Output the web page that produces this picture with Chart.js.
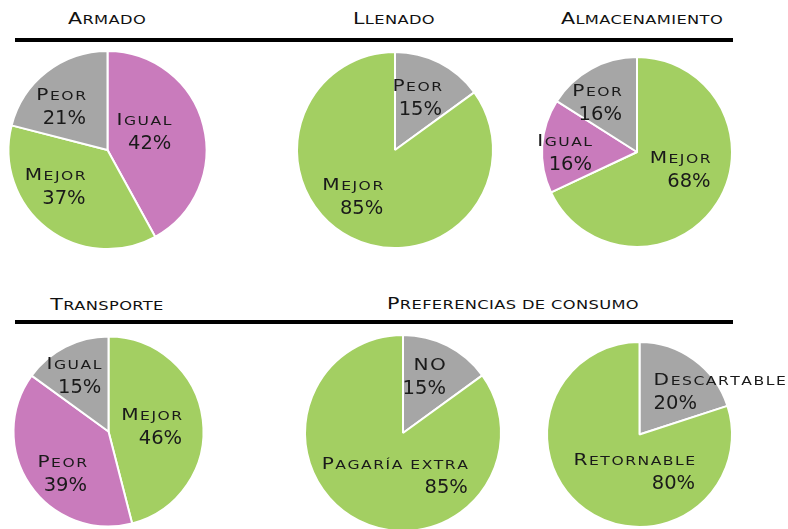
<!DOCTYPE html>
<html>
<head>
<meta charset="utf-8">
<script src="https://cdn.jsdelivr.net/npm/chart.js@4.4.1/dist/chart.umd.min.js"></script>
<style>
  html, body { margin: 0; padding: 0; background: #fff; }
  body { width: 788px; height: 529px; overflow: hidden; position: relative; font-family: "DejaVu Sans", sans-serif; }
  canvas { position: absolute; left: 0; top: 0; }
  .rule { position: absolute; left: 15px; width: 718px; height: 4px; background: #000; }
  .title { position: absolute; line-height: 20px; font-size: 16.5px; color: #111; white-space: nowrap;
           transform: translateX(-50%) scaleX(1.25); letter-spacing: 0.3px; }
  .title .sc { font-size: 13px; text-transform: uppercase; }
</style>
</head>
<body>
<div class="rule" style="top:38px"></div>
<div class="rule" style="top:320px"></div>

<script>
// values (%)
const armadoLabels = ['Igual', 'Mejor', 'Peor'];
const armadoValues = [42, 37, 21];
const llenadoLabels = ['Peor', 'Mejor'];
const llenadoValues = [15, 85];
const almacenLabels = ['Mejor', 'Igual', 'Peor'];
const almacenValues = [68, 16, 16];
const transporteLabels = ['Mejor', 'Peor', 'Igual'];
const transporteValues = [46, 39, 15];
const pagariaLabels = ['NO', 'Pagaría extra'];
const pagariaValues = [15, 85];
const envaseLabels = ['Descartable', 'Retornable'];
const envaseValues = [20, 80];

const GREEN = '#a3cf62', PINK = '#c97bbc', GRAY = '#a6a6a6';
const INK = '#1a1a1a';
const W = 788, H = 560;

// titles: [text, center x, baseline y]
const titles = [
  ['Armado', 107, 25],
  ['Llenado', 394, 25],
  ['Almacenamiento', 642, 25],
  ['Transporte', 107, 311],
  ['Preferencias de consumo', 513, 310]
];

titles.forEach(([text, x, base]) => {
  const d = document.createElement('div');
  d.className = 'title';
  d.style.left = x + 'px';
  d.style.top = (base - 15.7) + 'px';
  // small caps: real capitals big, the rest as smaller capitals
  let html = '', run = '';
  for (const ch of text) {
    if (ch !== ch.toLowerCase()) {
      if (run) { html += '<span class="sc">' + run + '</span>'; run = ''; }
      html += ch;
    } else run += ch;
  }
  if (run) html += '<span class="sc">' + run + '</span>';
  d.innerHTML = html;
  document.body.appendChild(d);
});

// draw a word in small caps, stretched wide like the original font
const STRETCH = 1.3, GAP = 1.5;
function scParts(ctx, text) {
  const parts = [];
  for (const ch of text) {
    const big = ch !== ch.toLowerCase();
    const font = big ? '15.5px "DejaVu Sans"' : '12px "DejaVu Sans"';
    const g = ch.toUpperCase();
    ctx.font = font;
    parts.push({ g, font, w: ctx.measureText(g).width * STRETCH });
  }
  return parts;
}
function scWidth(parts) {
  return parts.reduce((s, p) => s + p.w, 0) + GAP * (parts.length - 1);
}
function drawSc(ctx, parts, x, y) {
  let cx = x;
  parts.forEach(p => {
    ctx.save();
    ctx.font = p.font;
    ctx.translate(cx, y);
    ctx.scale(STRETCH, 1);
    ctx.fillText(p.g, 0, 0);
    ctx.restore();
    cx += p.w + GAP;
  });
}

const sliceLabels = {
  id: 'sliceLabels',
  afterDatasetsDraw(chart) {
    const ctx = chart.ctx;
    const cfg = chart.options.plugins.sliceLabels;
    const meta = chart.getDatasetMeta(0);
    const ds = chart.data.datasets[0];
    ctx.save();
    ctx.fillStyle = INK;
    ctx.textBaseline = 'alphabetic';
    ctx.textAlign = 'left';
    meta.data.forEach((arc, i) => {
      const pos = arc.tooltipPosition();
      const px = pos.x + cfg.nudge[i][0];
      const py = pos.y + cfg.nudge[i][1];
      const parts = scParts(ctx, chart.data.labels[i]);
      const w1 = scWidth(parts);
      const num = ds.data[i] + '%';
      ctx.font = '19.5px "DejaVu Sans"';
      const w2 = ctx.measureText(num).width;
      const bw = Math.max(w1, w2);
      const left = px - bw / 2;
      const b1 = py - 6.5, b2 = py + 17.5;
      if (cfg.align[i] === 'left') {
        drawSc(ctx, parts, left, b1);
        ctx.font = '19.5px "DejaVu Sans"';
        ctx.fillText(num, left, b2);
      } else {
        drawSc(ctx, parts, left + bw - w1, b1);
        ctx.font = '19.5px "DejaVu Sans"';
        ctx.fillText(num, left + bw - w2, b2);
      }
    });
    ctx.restore();
  }
};

function pie(labels, values, colors, cx, cy, r, nudge, align) {
  const c = document.createElement('canvas');
  c.width = W; c.height = H;
  document.body.appendChild(c);
  new Chart(c.getContext('2d'), {
    type: 'pie',
    data: {
      labels: labels,
      datasets: [{
        data: values,
        backgroundColor: colors,
        borderColor: '#fff',
        borderWidth: 2
      }]
    },
    options: {
      responsive: false,
      animation: false,
      events: [],
      layout: {
        padding: { left: cx - r - 1, top: cy - r - 1, right: W - cx - r - 1, bottom: H - cy - r - 1 }
      },
      plugins: {
        legend: { display: false },
        tooltip: { enabled: false },
        sliceLabels: { nudge: nudge, align: align || labels.map(() => 'right') }
      }
    },
    plugins: [sliceLabels]
  });
}

pie(armadoLabels, armadoValues, [PINK, GREEN, GRAY], 107.5, 150, 99,
    [[-11.5, -6], [-22, -3], [-16, -4]]);
pie(llenadoLabels, llenadoValues, [GRAY, GREEN], 395, 150, 98,
    [[0, -9], [-20, 3]]);
pie(almacenLabels, almacenValues, [GREEN, PINK, GRAY], 637, 152, 95,
    [[3, -8], [-25, 3], [-17, -8]]);
pie(transporteLabels, transporteValues, [GREEN, PINK, GRAY], 108.5, 431.5, 95,
    [[-4, 1], [-7, 15], [-13, -14]]);
pie(pagariaLabels, pagariaValues, [GRAY, GREEN], 403, 433, 98,
    [[-1, -13], [14, -1]]);
pie(envaseLabels, envaseValues, [GRAY, GREEN], 639.5, 434.5, 92.5,
    [[53, -6], [22, 0]], ['left', 'right']);
</script>
</body>
</html>
